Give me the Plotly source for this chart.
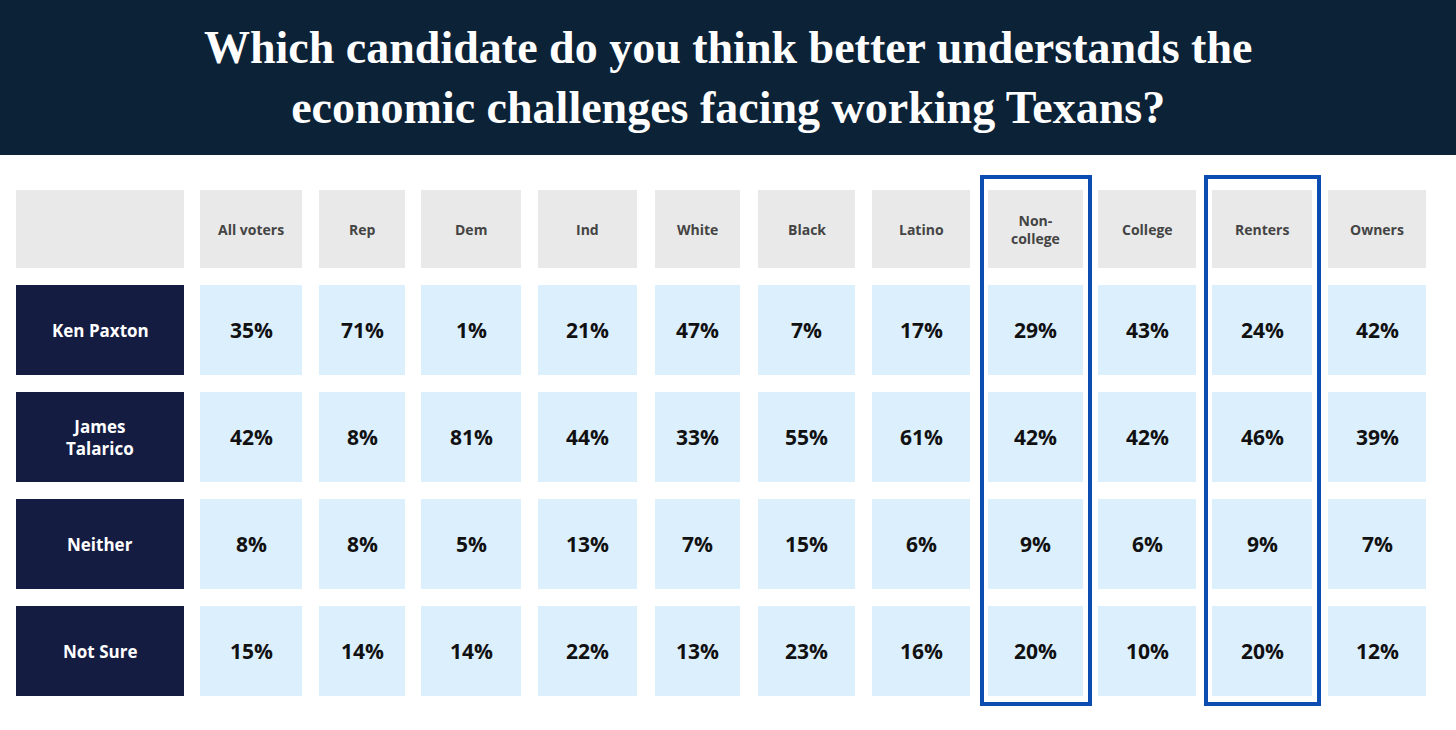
import plotly.graph_objects as go

title = "<b>Which candidate do you think better understands the<br>economic challenges facing working Texans?</b>"
groups = ["All voters", "Rep", "Dem", "Ind", "White", "Black", "Latino", "Non-<br>college", "College", "Renters", "Owners"]
answers = ["Ken Paxton", "James<br>Talarico", "Neither", "Not Sure"]
paxton   = [35, 71, 1, 21, 47, 7, 17, 29, 43, 24, 42]
talarico = [42, 8, 81, 44, 33, 55, 61, 42, 42, 46, 39]
neither  = [8, 8, 5, 13, 7, 15, 6, 9, 6, 9, 7]
notsure  = [15, 14, 14, 22, 13, 23, 16, 20, 10, 20, 12]
values = [paxton, talarico, neither, notsure]
highlighted = ["Non-<br>college", "Renters"]

# layout geometry (pixels)
col_edges = [(200, 302), (319, 405), (421, 521), (538, 637), (655, 740), (758, 855),
             (872, 970), (988, 1083), (1098, 1196), (1212, 1312), (1328, 1426)]
row_edges = [(285, 375), (392, 482), (499, 589), (606, 696)]
head_y = (190, 268)
label_x = (16, 184)

fig = go.Figure()
shapes, ann = [], []
shapes.append(dict(type="rect", x0=0, x1=1456, y0=0, y1=155, fillcolor="#0c2237", line_width=0, layer="below"))
ann.append(dict(x=728, y=77, text=title, showarrow=False, font=dict(family="Liberation Serif", size=46, color="white"), xanchor="center", yanchor="middle"))

shapes.append(dict(type="rect", x0=label_x[0], x1=label_x[1], y0=head_y[0], y1=head_y[1], fillcolor="#e9e9e9", line_width=0, layer="below"))
for g, (a, b) in zip(groups, col_edges):
    shapes.append(dict(type="rect", x0=a, x1=b, y0=head_y[0], y1=head_y[1], fillcolor="#e9e9e9", line_width=0, layer="below"))
    ann.append(dict(x=(a+b)/2, y=sum(head_y)/2, text=g, showarrow=False, font=dict(family="Open Sans", size=14, color="#444", weight="bold")))

for r, (ans, (y0, y1)) in enumerate(zip(answers, row_edges)):
    shapes.append(dict(type="rect", x0=label_x[0], x1=label_x[1], y0=y0, y1=y1, fillcolor="#141c42", line_width=0, layer="below"))
    ann.append(dict(x=sum(label_x)/2, y=(y0+y1)/2, text=ans, showarrow=False, font=dict(family="Open Sans", size=17, color="white", weight="bold")))
    for c, (a, b) in enumerate(col_edges):
        shapes.append(dict(type="rect", x0=a, x1=b, y0=y0, y1=y1, fillcolor="#dbeffd", line_width=0, layer="below"))
        ann.append(dict(x=(a+b)/2, y=(y0+y1)/2, text=f"{values[r][c]}%", showarrow=False, font=dict(family="Open Sans", size=21, color="#111", weight="bold")))

for h in highlighted:
    a, b = col_edges[groups.index(h)]
    shapes.append(dict(type="rect", x0=a-6, x1=b+7, y0=177, y1=704, fillcolor="rgba(0,0,0,0)", line=dict(color="#0b4db0", width=4)))

fig.add_trace(go.Scatter(x=[0, 1456], y=[0, 730], mode="markers", marker_opacity=0, hoverinfo="skip", showlegend=False))
fig.update_layout(width=1456, height=730, margin=dict(l=0, r=0, t=0, b=0), paper_bgcolor="white", plot_bgcolor="white",
                  shapes=shapes, annotations=ann,
                  xaxis=dict(range=[0, 1456], visible=False, fixedrange=True),
                  yaxis=dict(range=[730, 0], visible=False, fixedrange=True))
html = fig.to_html(include_plotlyjs=True, full_html=True, config={"displayModeBar": False})
html = html.replace("<head>", "<head><style>html,body{margin:0;padding:0;overflow:hidden}</style>", 1)
with open("out.html", "w", encoding="utf-8") as f:
    f.write(html)
